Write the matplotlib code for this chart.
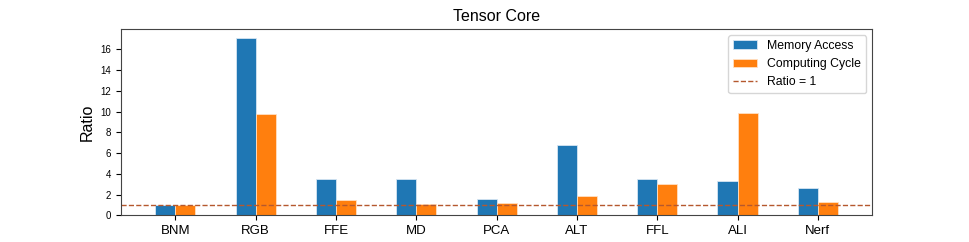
import matplotlib
matplotlib.use("Agg")
import matplotlib.pyplot as plt
import numpy as np

plt.rcParams['font.family'] = ['Liberation Sans', 'DejaVu Sans']

workloads = ["BNM", "RGB", "FFE", "MD", "PCA", "ALT", "FFL", "ALI", "Nerf"]
memory_access = [1.03, 17.1, 3.53, 3.47, 1.57, 6.78, 3.47, 3.28, 2.6]
computing_cycle = [1.0, 9.73, 1.45, 1.06, 1.16, 1.9, 3.02, 9.86, 1.25]

x = np.arange(len(workloads))
width = 0.25

fig, ax = plt.subplots(figsize=(9.69, 2.42), dpi=100)
b1 = ax.bar(x - width / 2, memory_access, width, color='#1f77b4', edgecolor='#d6e6f3',
            linewidth=0.6, label='Memory Access')
b2 = ax.bar(x + width / 2, computing_cycle, width, color='#ff7f0e', edgecolor='#ffe0c4',
            linewidth=0.6, label='Computing Cycle')
ln = ax.axhline(1, color='#b5582e', linestyle='--', linewidth=1.0, label='Ratio = 1')

ax.set_xticks(x)
ax.set_xticklabels(workloads, fontsize=9.5)
ax.tick_params(axis='y', labelsize=7)
ax.set_yticks(range(0, 17, 2))
ax.set_ylabel('Ratio', fontsize=11.5)
ax.set_title('Tensor Core', fontsize=11.5)
for s in ax.spines.values():
    s.set_color('#444444')

ax.legend(handles=[b1, b2, ln], fontsize=8.8, loc='upper right')

plt.savefig('out.png', dpi=100)
plt.close()
